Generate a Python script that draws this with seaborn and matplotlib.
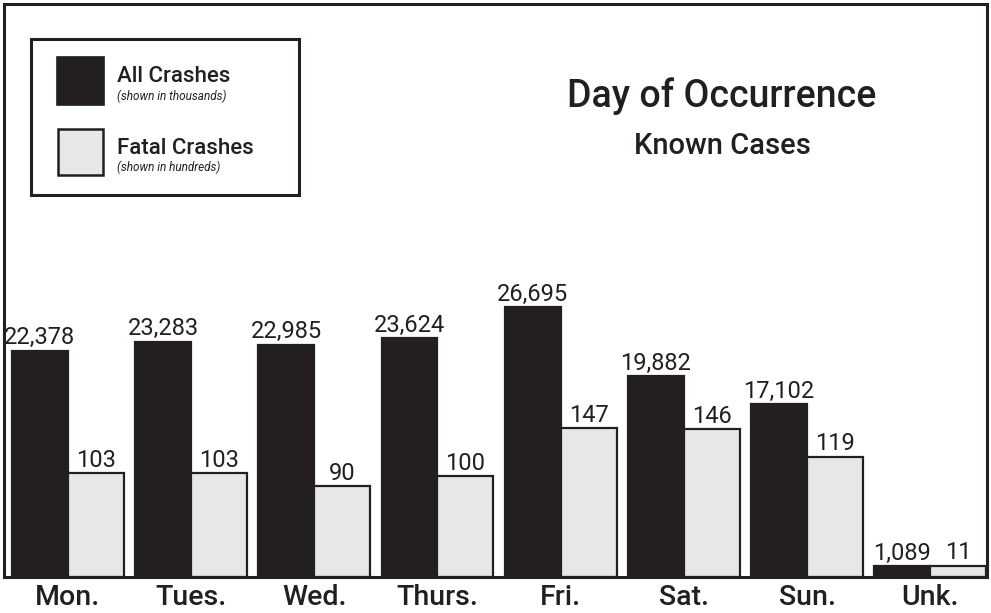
import matplotlib
matplotlib.use("Agg")
import matplotlib.pyplot as plt
from matplotlib.patches import Rectangle
import pandas as pd
import seaborn as sns

days = ["Mon.", "Tues.", "Wed.", "Thurs.", "Fri.", "Sat.", "Sun.", "Unk."]
all_crashes = [22378, 23283, 22985, 23624, 26695, 19882, 17102, 1089]
fatal_crashes = [103, 103, 90, 100, 147, 146, 119, 11]
series = ["All Crashes", "Fatal Crashes"]

dark = "#231f20"
light = "#e6e7e8"

# all crashes drawn in thousands, fatal crashes scaled to sit on the same axis
df = pd.DataFrame({
    "day": days * 2,
    "series": [series[0]] * len(days) + [series[1]] * len(days),
    "height": [v / 1000 for v in all_crashes] + [v / 10 for v in fatal_crashes],
})

sns.set_style("white")
plt.rcParams["font.family"] = ["Roboto", "DejaVu Sans"]

fig = plt.figure(figsize=(9.91, 6.13), dpi=100)
ax = fig.add_axes([4 / 991, 36 / 613, 983 / 991, 573 / 613])

sns.barplot(
    data=df, x="day", y="height", hue="series", order=days, hue_order=series,
    palette=[dark, light], saturation=1, width=0.907,
    edgecolor=dark, linewidth=1.6, legend=False, ax=ax,
)

for cont, vals in zip(ax.containers, [all_crashes, fatal_crashes]):
    ax.bar_label(cont, labels=[f"{v:,}" for v in vals], padding=1,
                 fontsize=17, color=dark)

ax.set_xlim(-0.518, 7.46)
ax.set_ylim(0, 56.7)
ax.set_xlabel("")
ax.set_ylabel("")
ax.set_yticks([])
ax.tick_params(axis="x", length=0, pad=5, labelsize=20.5, labelcolor=dark)
for lab in ax.get_xticklabels():
    lab.set_fontweight("medium")
for sp in ax.spines.values():
    sp.set_visible(True)
    sp.set_color(dark)
    sp.set_linewidth(2.2)

# title
fig.text(722 / 991, 1 - 107 / 613, "Day of Occurrence", ha="center",
         va="baseline", fontsize=27, fontweight="medium", color=dark)
fig.text(722 / 991, 1 - 154 / 613, "Known Cases", ha="center",
         va="baseline", fontsize=21, fontweight="medium", color=dark)

# legend box drawn by hand (two-line labels)
def px(x, y):
    return x / 991, 1 - y / 613

fig.patches.append(Rectangle(px(31, 195), 268 / 991, 156 / 613, transform=fig.transFigure,
                             facecolor="white", edgecolor=dark, linewidth=2.2))
fig.patches.append(Rectangle(px(57, 105), 47 / 991, 48 / 613, transform=fig.transFigure,
                             facecolor=dark, edgecolor=dark, linewidth=1.2))
fig.patches.append(Rectangle(px(58, 175), 45 / 991, 46 / 613, transform=fig.transFigure,
                             facecolor=light, edgecolor=dark, linewidth=1.8))
fig.text(*px(117, 82), "All Crashes", fontsize=16, fontweight="medium",
         color=dark, va="baseline")
fig.text(*px(117, 100), "(shown in thousands)", fontsize=8.5, style="italic",
         color=dark, va="baseline")
fig.text(*px(117, 154), "Fatal Crashes", fontsize=16, fontweight="medium",
         color=dark, va="baseline")
fig.text(*px(117, 171), "(shown in hundreds)", fontsize=8.5, style="italic",
         color=dark, va="baseline")

fig.savefig("out.png", dpi=100, facecolor="white")
